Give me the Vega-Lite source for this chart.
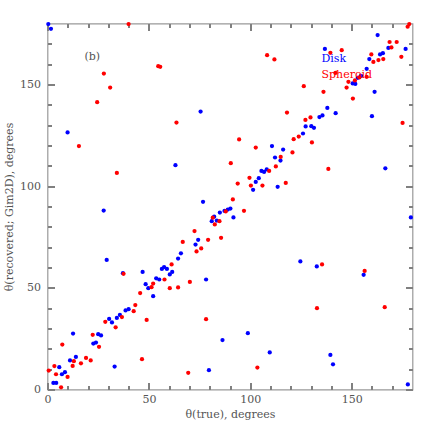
{
  "$schema": "https://vega.github.io/schema/vega-lite/v6.json",
  "width": 365,
  "height": 366,
  "autosize": {"type": "none"},
  "padding": {"left": 47.5, "top": 23.5, "right": 23.5, "bottom": 46.5},
  "background": "white",
  "config": {
    "font": "DejaVu Serif",
    "view": {"stroke": "#999999", "strokeWidth": 1.2},
    "axis": {
      "grid": false,
      "domain": false,
      "tickColor": "#808080",
      "tickWidth": 2,
      "labelFont": "DejaVu Serif",
      "labelFontSize": 11,
      "labelColor": "#555555",
      "titleFont": "DejaVu Serif",
      "titleFontSize": 11,
      "titleFontWeight": "normal",
      "titleColor": "#555555"
    }
  },
  "title": {
    "text": "(b)",
    "anchor": "start",
    "frame": "group",
    "font": "DejaVu Serif",
    "fontSize": 11,
    "fontWeight": "normal",
    "color": "#555555",
    "baseline": "middle",
    "offset": 0,
    "dx": 37,
    "dy": 47
  },
  "datasets": {
    "points": [
      {"type": "Disk", "theta_true": 0.4, "theta_rec": 179.7},
      {"type": "Disk", "theta_true": 1.7, "theta_rec": 177.4},
      {"type": "Disk", "theta_true": 75.5, "theta_rec": 136.7},
      {"type": "Disk", "theta_true": 9.9, "theta_rec": 126.4},
      {"type": "Disk", "theta_true": 63.1, "theta_rec": 110.3},
      {"type": "Disk", "theta_true": 27.7, "theta_rec": 88},
      {"type": "Disk", "theta_true": 76.7, "theta_rec": 92.3},
      {"type": "Disk", "theta_true": 82.2, "theta_rec": 85},
      {"type": "Disk", "theta_true": 162.8, "theta_rec": 174.3},
      {"type": "Disk", "theta_true": 168.1, "theta_rec": 168},
      {"type": "Disk", "theta_true": 176.6, "theta_rec": 167.5},
      {"type": "Disk", "theta_true": 136.8, "theta_rec": 167.5},
      {"type": "Disk", "theta_true": 164, "theta_rec": 164.8},
      {"type": "Disk", "theta_true": 165.4, "theta_rec": 165.4},
      {"type": "Disk", "theta_true": 158.7, "theta_rec": 162.5},
      {"type": "Disk", "theta_true": 157.4, "theta_rec": 157.7},
      {"type": "Disk", "theta_true": 154.6, "theta_rec": 154.3},
      {"type": "Disk", "theta_true": 153, "theta_rec": 153.3},
      {"type": "Disk", "theta_true": 150.5, "theta_rec": 150.5},
      {"type": "Disk", "theta_true": 151.8, "theta_rec": 150.3},
      {"type": "Disk", "theta_true": 161.3, "theta_rec": 146.4},
      {"type": "Disk", "theta_true": 138, "theta_rec": 138.5},
      {"type": "Disk", "theta_true": 160, "theta_rec": 134.4},
      {"type": "Disk", "theta_true": 142.1, "theta_rec": 135.9},
      {"type": "Disk", "theta_true": 134.1, "theta_rec": 134},
      {"type": "Disk", "theta_true": 135.6, "theta_rec": 134.8},
      {"type": "Disk", "theta_true": 127.3, "theta_rec": 129.4},
      {"type": "Disk", "theta_true": 130.1, "theta_rec": 129.5},
      {"type": "Disk", "theta_true": 131.4, "theta_rec": 128.7},
      {"type": "Disk", "theta_true": 126, "theta_rec": 125.9},
      {"type": "Disk", "theta_true": 110.7, "theta_rec": 119.7},
      {"type": "Disk", "theta_true": 116.2, "theta_rec": 118},
      {"type": "Disk", "theta_true": 112.2, "theta_rec": 114.1},
      {"type": "Disk", "theta_true": 114.9, "theta_rec": 112.6},
      {"type": "Disk", "theta_true": 105.5, "theta_rec": 107.5},
      {"type": "Disk", "theta_true": 106.8, "theta_rec": 107},
      {"type": "Disk", "theta_true": 108.1, "theta_rec": 108.2},
      {"type": "Disk", "theta_true": 166.6, "theta_rec": 108.8},
      {"type": "Disk", "theta_true": 104.2, "theta_rec": 103.9},
      {"type": "Disk", "theta_true": 102.7, "theta_rec": 102.1},
      {"type": "Disk", "theta_true": 101.4, "theta_rec": 98.2},
      {"type": "Disk", "theta_true": 113.5, "theta_rec": 99.7},
      {"type": "Disk", "theta_true": 90.2, "theta_rec": 89},
      {"type": "Disk", "theta_true": 88.9, "theta_rec": 88.5},
      {"type": "Disk", "theta_true": 87.3, "theta_rec": 87.8},
      {"type": "Disk", "theta_true": 85, "theta_rec": 87},
      {"type": "Disk", "theta_true": 91.7, "theta_rec": 84.6},
      {"type": "Disk", "theta_true": 179.2, "theta_rec": 84.6},
      {"type": "Disk", "theta_true": 2.9, "theta_rec": 3.2},
      {"type": "Disk", "theta_true": 4.3, "theta_rec": 3.2},
      {"type": "Disk", "theta_true": 5.8, "theta_rec": 11},
      {"type": "Disk", "theta_true": 7.1, "theta_rec": 7.5},
      {"type": "Disk", "theta_true": 8.6, "theta_rec": 8.5},
      {"type": "Disk", "theta_true": 11.1, "theta_rec": 14.3},
      {"type": "Disk", "theta_true": 14, "theta_rec": 16},
      {"type": "Disk", "theta_true": 12.6, "theta_rec": 27.5},
      {"type": "Disk", "theta_true": 22.6, "theta_rec": 22.6},
      {"type": "Disk", "theta_true": 23.9, "theta_rec": 23.1},
      {"type": "Disk", "theta_true": 25, "theta_rec": 27.2},
      {"type": "Disk", "theta_true": 26.4, "theta_rec": 26.6},
      {"type": "Disk", "theta_true": 29.2, "theta_rec": 63.7},
      {"type": "Disk", "theta_true": 30.4, "theta_rec": 34.7},
      {"type": "Disk", "theta_true": 31.8, "theta_rec": 33},
      {"type": "Disk", "theta_true": 34.2, "theta_rec": 35.2},
      {"type": "Disk", "theta_true": 35.7, "theta_rec": 36.7},
      {"type": "Disk", "theta_true": 33.1, "theta_rec": 11.3},
      {"type": "Disk", "theta_true": 37.2, "theta_rec": 57.2},
      {"type": "Disk", "theta_true": 38.5, "theta_rec": 38.9},
      {"type": "Disk", "theta_true": 40, "theta_rec": 39.5},
      {"type": "Disk", "theta_true": 46.9, "theta_rec": 57.8},
      {"type": "Disk", "theta_true": 48.4, "theta_rec": 51.8},
      {"type": "Disk", "theta_true": 49.7, "theta_rec": 49.8},
      {"type": "Disk", "theta_true": 52.1, "theta_rec": 45.9},
      {"type": "Disk", "theta_true": 53.6, "theta_rec": 54.7},
      {"type": "Disk", "theta_true": 55.1, "theta_rec": 54.1},
      {"type": "Disk", "theta_true": 56.4, "theta_rec": 59.3},
      {"type": "Disk", "theta_true": 57.5, "theta_rec": 60.2},
      {"type": "Disk", "theta_true": 58.9, "theta_rec": 59.3},
      {"type": "Disk", "theta_true": 60.3, "theta_rec": 56.6},
      {"type": "Disk", "theta_true": 61.5, "theta_rec": 57.8},
      {"type": "Disk", "theta_true": 64.4, "theta_rec": 64.4},
      {"type": "Disk", "theta_true": 65.8, "theta_rec": 67},
      {"type": "Disk", "theta_true": 73, "theta_rec": 71.3},
      {"type": "Disk", "theta_true": 74.3, "theta_rec": 73.6},
      {"type": "Disk", "theta_true": 78.2, "theta_rec": 54.1},
      {"type": "Disk", "theta_true": 79.6, "theta_rec": 9.5},
      {"type": "Disk", "theta_true": 81, "theta_rec": 82.8},
      {"type": "Disk", "theta_true": 83.5, "theta_rec": 83.1},
      {"type": "Disk", "theta_true": 124.7, "theta_rec": 63},
      {"type": "Disk", "theta_true": 132.8, "theta_rec": 60.5},
      {"type": "Disk", "theta_true": 155.9, "theta_rec": 56.4},
      {"type": "Disk", "theta_true": 86.3, "theta_rec": 24.3},
      {"type": "Disk", "theta_true": 98.8, "theta_rec": 27.7},
      {"type": "Disk", "theta_true": 109.6, "theta_rec": 18.2},
      {"type": "Disk", "theta_true": 139.5, "theta_rec": 17},
      {"type": "Disk", "theta_true": 140.8, "theta_rec": 12.4},
      {"type": "Disk", "theta_true": 177.7, "theta_rec": 2.5},
      {"type": "Spheroid", "theta_true": 40, "theta_rec": 179.7},
      {"type": "Spheroid", "theta_true": 27.8, "theta_rec": 155.4},
      {"type": "Spheroid", "theta_true": 30.9, "theta_rec": 148.5},
      {"type": "Spheroid", "theta_true": 24.5, "theta_rec": 141.3},
      {"type": "Spheroid", "theta_true": 54.6, "theta_rec": 159},
      {"type": "Spheroid", "theta_true": 55.6, "theta_rec": 158.7},
      {"type": "Spheroid", "theta_true": 63.6, "theta_rec": 131.3},
      {"type": "Spheroid", "theta_true": 15.5, "theta_rec": 119.7},
      {"type": "Spheroid", "theta_true": 34.2, "theta_rec": 106.5},
      {"type": "Spheroid", "theta_true": 81.5, "theta_rec": 84.5},
      {"type": "Spheroid", "theta_true": 178.4, "theta_rec": 179.7},
      {"type": "Spheroid", "theta_true": 177.6, "theta_rec": 178.4},
      {"type": "Spheroid", "theta_true": 168.7, "theta_rec": 170.9},
      {"type": "Spheroid", "theta_true": 172.2, "theta_rec": 170.9},
      {"type": "Spheroid", "theta_true": 169.6, "theta_rec": 168.2},
      {"type": "Spheroid", "theta_true": 139.5, "theta_rec": 165.6},
      {"type": "Spheroid", "theta_true": 145.1, "theta_rec": 166.9},
      {"type": "Spheroid", "theta_true": 108.3, "theta_rec": 164.4},
      {"type": "Spheroid", "theta_true": 111.9, "theta_rec": 162.3},
      {"type": "Spheroid", "theta_true": 159.7, "theta_rec": 164.8},
      {"type": "Spheroid", "theta_true": 160.7, "theta_rec": 161.1},
      {"type": "Spheroid", "theta_true": 163.2, "theta_rec": 162},
      {"type": "Spheroid", "theta_true": 165.6, "theta_rec": 162.5},
      {"type": "Spheroid", "theta_true": 174.5, "theta_rec": 163.6},
      {"type": "Spheroid", "theta_true": 142, "theta_rec": 155.7},
      {"type": "Spheroid", "theta_true": 153.8, "theta_rec": 153.5},
      {"type": "Spheroid", "theta_true": 157.4, "theta_rec": 153.8},
      {"type": "Spheroid", "theta_true": 151.6, "theta_rec": 152},
      {"type": "Spheroid", "theta_true": 148.4, "theta_rec": 151.3},
      {"type": "Spheroid", "theta_true": 147.5, "theta_rec": 148.5},
      {"type": "Spheroid", "theta_true": 126.4, "theta_rec": 149.2},
      {"type": "Spheroid", "theta_true": 136.1, "theta_rec": 146.4},
      {"type": "Spheroid", "theta_true": 150.6, "theta_rec": 143.1},
      {"type": "Spheroid", "theta_true": 118.1, "theta_rec": 136.2},
      {"type": "Spheroid", "theta_true": 129.7, "theta_rec": 133.8},
      {"type": "Spheroid", "theta_true": 127.2, "theta_rec": 132.6},
      {"type": "Spheroid", "theta_true": 175.1, "theta_rec": 131.1},
      {"type": "Spheroid", "theta_true": 123.9, "theta_rec": 124.4},
      {"type": "Spheroid", "theta_true": 121.4, "theta_rec": 123.1},
      {"type": "Spheroid", "theta_true": 130.4, "theta_rec": 121.5},
      {"type": "Spheroid", "theta_true": 94.5, "theta_rec": 123},
      {"type": "Spheroid", "theta_true": 102.7, "theta_rec": 119},
      {"type": "Spheroid", "theta_true": 120.8, "theta_rec": 116.6},
      {"type": "Spheroid", "theta_true": 115, "theta_rec": 114.4},
      {"type": "Spheroid", "theta_true": 112.6, "theta_rec": 109.7},
      {"type": "Spheroid", "theta_true": 90.4, "theta_rec": 111.3},
      {"type": "Spheroid", "theta_true": 109.3, "theta_rec": 107.5},
      {"type": "Spheroid", "theta_true": 138.5, "theta_rec": 108.5},
      {"type": "Spheroid", "theta_true": 99.6, "theta_rec": 104.1},
      {"type": "Spheroid", "theta_true": 93.8, "theta_rec": 101.3},
      {"type": "Spheroid", "theta_true": 100.3, "theta_rec": 100.3},
      {"type": "Spheroid", "theta_true": 106, "theta_rec": 100.3},
      {"type": "Spheroid", "theta_true": 117.5, "theta_rec": 101.6},
      {"type": "Spheroid", "theta_true": 91.4, "theta_rec": 93.5},
      {"type": "Spheroid", "theta_true": 96.9, "theta_rec": 87.9},
      {"type": "Spheroid", "theta_true": 87.9, "theta_rec": 87.6},
      {"type": "Spheroid", "theta_true": 84.8, "theta_rec": 82.8},
      {"type": "Spheroid", "theta_true": 82.5, "theta_rec": 81.2},
      {"type": "Spheroid", "theta_true": 85.6, "theta_rec": 74.6},
      {"type": "Spheroid", "theta_true": 0.6, "theta_rec": 9.3},
      {"type": "Spheroid", "theta_true": 3.4, "theta_rec": 11.5},
      {"type": "Spheroid", "theta_true": 4.2, "theta_rec": 7.5},
      {"type": "Spheroid", "theta_true": 6.7, "theta_rec": 1.1},
      {"type": "Spheroid", "theta_true": 7.3, "theta_rec": 22.1},
      {"type": "Spheroid", "theta_true": 9.9, "theta_rec": 6.2},
      {"type": "Spheroid", "theta_true": 12.4, "theta_rec": 11.6},
      {"type": "Spheroid", "theta_true": 13, "theta_rec": 13.9},
      {"type": "Spheroid", "theta_true": 16.5, "theta_rec": 12.9},
      {"type": "Spheroid", "theta_true": 19, "theta_rec": 15.5},
      {"type": "Spheroid", "theta_true": 21.3, "theta_rec": 14.3},
      {"type": "Spheroid", "theta_true": 22.3, "theta_rec": 26.9},
      {"type": "Spheroid", "theta_true": 25.4, "theta_rec": 21},
      {"type": "Spheroid", "theta_true": 28.5, "theta_rec": 33.3},
      {"type": "Spheroid", "theta_true": 33.6, "theta_rec": 30.6},
      {"type": "Spheroid", "theta_true": 36.7, "theta_rec": 35.6},
      {"type": "Spheroid", "theta_true": 37.5, "theta_rec": 56.9},
      {"type": "Spheroid", "theta_true": 42.5, "theta_rec": 38.5},
      {"type": "Spheroid", "theta_true": 43.3, "theta_rec": 41.5},
      {"type": "Spheroid", "theta_true": 45.7, "theta_rec": 47.4},
      {"type": "Spheroid", "theta_true": 46.6, "theta_rec": 14.9},
      {"type": "Spheroid", "theta_true": 48.9, "theta_rec": 34.2},
      {"type": "Spheroid", "theta_true": 51.3, "theta_rec": 50.3},
      {"type": "Spheroid", "theta_true": 52.1, "theta_rec": 52.1},
      {"type": "Spheroid", "theta_true": 57.7, "theta_rec": 54.1},
      {"type": "Spheroid", "theta_true": 60.3, "theta_rec": 49.8},
      {"type": "Spheroid", "theta_true": 61.2, "theta_rec": 61.5},
      {"type": "Spheroid", "theta_true": 64.4, "theta_rec": 50.2},
      {"type": "Spheroid", "theta_true": 66.7, "theta_rec": 72.6},
      {"type": "Spheroid", "theta_true": 70.2, "theta_rec": 52.9},
      {"type": "Spheroid", "theta_true": 69.4, "theta_rec": 8.2},
      {"type": "Spheroid", "theta_true": 72.5, "theta_rec": 77.9},
      {"type": "Spheroid", "theta_true": 73.5, "theta_rec": 67.9},
      {"type": "Spheroid", "theta_true": 75.8, "theta_rec": 69.4},
      {"type": "Spheroid", "theta_true": 78.2, "theta_rec": 34.6},
      {"type": "Spheroid", "theta_true": 79.2, "theta_rec": 73.6},
      {"type": "Spheroid", "theta_true": 135.4, "theta_rec": 61.5},
      {"type": "Spheroid", "theta_true": 156.4, "theta_rec": 58.3},
      {"type": "Spheroid", "theta_true": 132.9, "theta_rec": 40},
      {"type": "Spheroid", "theta_true": 166.3, "theta_rec": 40.5},
      {"type": "Spheroid", "theta_true": 103.5, "theta_rec": 10.8}
    ]
  },
  "layer": [
    {
      "data": {"name": "points"},
      "mark": {"type": "circle", "size": 18, "opacity": 1},
      "encoding": {
        "x": {
          "field": "theta_true",
          "type": "quantitative",
          "scale": {"domain": [0, 180], "nice": false, "zero": false},
          "axis": {
            "orient": "bottom",
            "title": "θ(true), degrees",
            "values": [0, 50, 100, 150],
            "tickSize": 7,
            "offset": -7,
            "tickColor": "#808080",
            "tickWidth": 2,
            "labelPadding": 4,
            "titlePadding": 4,
            "labelFlush": false
          }
        },
        "y": {
          "field": "theta_rec",
          "type": "quantitative",
          "scale": {"domain": [0, 180], "nice": false, "zero": false},
          "axis": {
            "orient": "left",
            "title": "θ(recovered; Gim2D), degrees",
            "values": [0, 50, 100, 150],
            "tickSize": 7,
            "offset": -7,
            "tickColor": "#808080",
            "tickWidth": 2,
            "labelPadding": 7,
            "titlePadding": 5,
            "labelFlush": false
          }
        },
        "color": {
          "field": "type",
          "type": "nominal",
          "scale": {"domain": ["Disk", "Spheroid"], "range": ["#0000ff", "#ff0000"]},
          "legend": {
            "orient": "none",
            "legendX": 263,
            "legendY": 30,
            "title": null,
            "padding": 0,
            "symbolSize": 0,
            "symbolOpacity": 0,
            "symbolStrokeWidth": 0,
            "labelOffset": 0,
            "labelFont": "DejaVu Serif",
            "labelFontSize": 11,
            "rowPadding": 4,
            "encode": {
              "labels": {"update": {"fill": {"scale": "color", "field": "value"}}}
            }
          }
        }
      }
    },
    {
      "data": {"name": "points"},
      "mark": {"type": "circle", "opacity": 0},
      "encoding": {
        "x": {
          "field": "theta_true",
          "type": "quantitative",
          "scale": {"domain": [0, 180], "nice": false, "zero": false},
          "axis": {"orient": "top", "title": null, "labels": false, "values": [0, 50, 100, 150], "tickSize": -7, "tickColor": "#808080", "tickWidth": 2}
        },
        "y": {
          "field": "theta_rec",
          "type": "quantitative",
          "scale": {"domain": [0, 180], "nice": false, "zero": false},
          "axis": {"orient": "right", "title": null, "labels": false, "values": [0, 50, 100, 150], "tickSize": -7, "tickColor": "#808080", "tickWidth": 2}
        }
      }
    },
    {
      "data": {"name": "points"},
      "mark": {"type": "circle", "opacity": 0},
      "encoding": {
        "x": {
          "field": "theta_true",
          "type": "quantitative",
          "scale": {"domain": [0, 180], "nice": false, "zero": false},
          "axis": {"orient": "bottom", "title": null, "labels": false, "values": [10, 20, 30, 40, 60, 70, 80, 90, 110, 120, 130, 140, 160, 170], "tickSize": -4, "tickColor": "#808080", "tickWidth": 2}
        },
        "y": {
          "field": "theta_rec",
          "type": "quantitative",
          "scale": {"domain": [0, 180], "nice": false, "zero": false},
          "axis": {"orient": "left", "title": null, "labels": false, "values": [10, 20, 30, 40, 60, 70, 80, 90, 110, 120, 130, 140, 160, 170], "tickSize": -4, "tickColor": "#808080", "tickWidth": 2}
        }
      }
    },
    {
      "data": {"name": "points"},
      "mark": {"type": "circle", "opacity": 0},
      "encoding": {
        "x": {
          "field": "theta_true",
          "type": "quantitative",
          "scale": {"domain": [0, 180], "nice": false, "zero": false},
          "axis": {"orient": "top", "title": null, "labels": false, "values": [10, 20, 30, 40, 60, 70, 80, 90, 110, 120, 130, 140, 160, 170], "tickSize": -4, "tickColor": "#808080", "tickWidth": 2}
        },
        "y": {
          "field": "theta_rec",
          "type": "quantitative",
          "scale": {"domain": [0, 180], "nice": false, "zero": false},
          "axis": {"orient": "right", "title": null, "labels": false, "values": [10, 20, 30, 40, 60, 70, 80, 90, 110, 120, 130, 140, 160, 170], "tickSize": -4, "tickColor": "#808080", "tickWidth": 2}
        }
      }
    }
  ],
  "resolve": {"axis": {"x": "independent", "y": "independent"}}
}
